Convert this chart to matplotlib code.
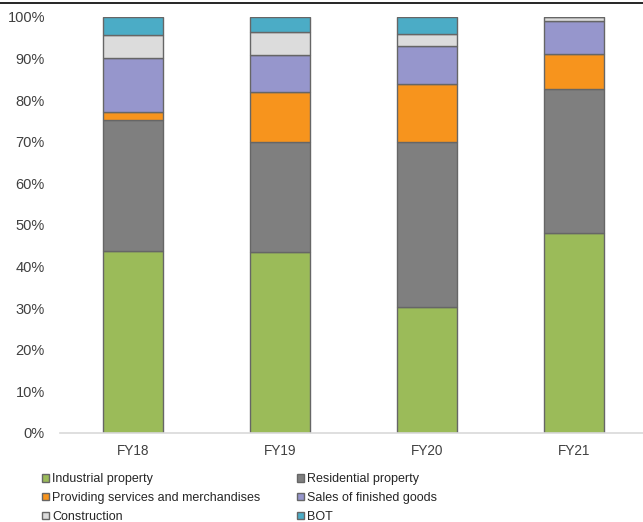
import numpy as np
import matplotlib.pyplot as plt
from matplotlib.lines import Line2D

plt.rcParams['font.family'] = ['Liberation Sans', 'DejaVu Sans']

years = ['FY18', 'FY19', 'FY20', 'FY21']

# revenue structure, % of total
industrial = [43.8, 43.5, 30.3, 48.1]
residential = [31.4, 26.4, 39.7, 34.7]
services = [1.9, 12.1, 13.9, 8.3]
finished_goods = [13.1, 8.9, 9.2, 7.9]
construction = [5.5, 5.4, 2.9, 1.0]
bot = [4.3, 3.7, 4.0, 0.0]

series = [
    ('Industrial property', industrial, '#9BBB59'),
    ('Residential property', residential, '#7F7F7F'),
    ('Providing services and merchandises', services, '#F7941D'),
    ('Sales of finished goods', finished_goods, '#9696CC'),
    ('Construction', construction, '#DCDCDC'),
    ('BOT', bot, '#4BACC6'),
]

fig = plt.figure(figsize=(6.43, 5.22), dpi=100)
ax = fig.add_axes([59.5 / 643, 89 / 522, (643 - 59.5) / 643, 416 / 522])

x = np.arange(len(years))
bottom = np.zeros(len(years))
handles = []
for name, vals, col in series:
    vals = np.array(vals) / 100
    bars = ax.bar(x, vals, width=0.41, bottom=bottom, color=col,
                  edgecolor='#666666', linewidth=1.0, label=name)
    bottom += vals
    handles.append(bars)

ax.set_ylim(0, 1)
ax.set_xlim(-0.5, 3.5 - 4.5 / 147)
yt = np.arange(0, 1.01, 0.1)
ax.set_yticks(yt)
ax.set_yticklabels([f'{int(round(v * 100))}%' for v in yt], fontsize=10.5)
ax.set_xticks(x)
ax.set_xticklabels(years, fontsize=9.8)
ax.tick_params(axis='both', length=0, colors='#404040')
ax.tick_params(axis='x', pad=8)
ax.tick_params(axis='y', pad=10.5)
for s in ['top', 'right', 'left']:
    ax.spines[s].set_visible(False)
ax.spines['bottom'].set_color('#D9D9D9')
ax.spines['bottom'].set_linewidth(1.2)

# thin rule along the top of the figure
fig.add_artist(Line2D([0, 1], [1 - 2.5 / 522, 1 - 2.5 / 522], color='black', linewidth=1.2))

# legend filled row by row: two entries per row
order = [0, 2, 4, 1, 3, 5]
leg = fig.legend(handles=[handles[i] for i in order], loc='upper left',
                 bbox_to_anchor=(36 / 643, 1 - 467 / 522),
                 ncol=2, frameon=False, fontsize=9, handlelength=0.55, handleheight=0.55,
                 handletextpad=0.25, columnspacing=2.9, labelspacing=0.55, borderpad=0)
for t in leg.get_texts():
    t.set_color('#262626')

fig.savefig('out.png', dpi=100)
